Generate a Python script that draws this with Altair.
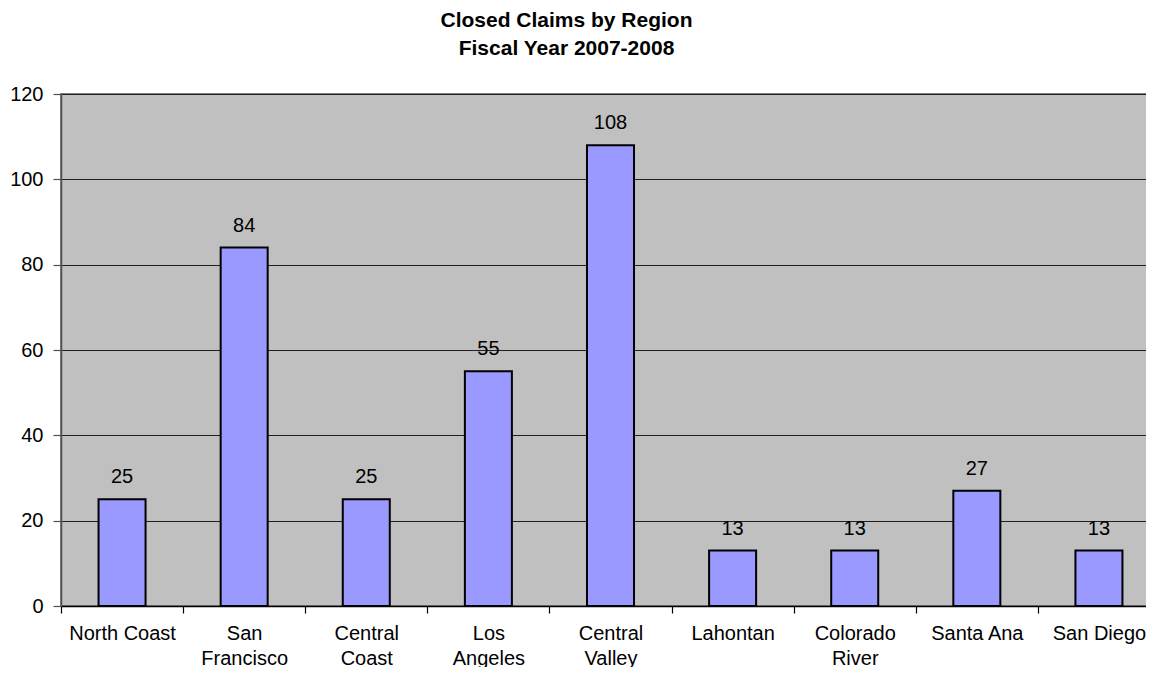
import altair as alt
import pandas as pd

regions = ["North Coast", "San Francisco", "Central Coast", "Los Angeles",
           "Central Valley", "Lahontan", "Colorado River", "Santa Ana", "San Diego"]
claims = [25, 84, 25, 55, 108, 13, 13, 27, 13]
y_ticks = [0, 20, 40, 60, 80, 100, 120]
single_line = ["North Coast", "Santa Ana", "San Diego"]

df = pd.DataFrame({"region": regions, "claims": claims})

FONT = "Liberation Sans"

label_expr = ("datum.value == null ? '' : (indexof([" +
              ",".join("'%s'" % s for s in single_line) +
              "], datum.value) >= 0 ? datum.value : split(datum.value, ' '))")

x = alt.X("region:N", sort=regions, title=None,
          scale=alt.Scale(paddingInner=0, paddingOuter=0),
          axis=alt.Axis(labelAngle=0, tickBand="extent", labelExpr=label_expr,
                        labelFontSize=20, labelFont=FONT, labelColor="black",
                        labelLineHeight=25, labelPadding=10,
                        domainColor="black", domainWidth=1.5,
                        tickColor="black", tickSize=7, tickWidth=1.2,
                        grid=False))
y = alt.Y("claims:Q", title=None,
          scale=alt.Scale(domain=[0, 120], nice=False),
          axis=alt.Axis(values=y_ticks, labelFontSize=20, labelFont=FONT,
                        labelColor="black", labelPadding=10,
                        domainColor="#505050", domainWidth=1.5,
                        tickColor="#505050", tickSize=8, tickWidth=1.2,
                        grid=True, gridColor="#202020", gridWidth=1))

base = alt.Chart(df)
bars = base.mark_bar(color="#9999FF", stroke="black", strokeWidth=2,
                     width=alt.RelativeBandSize(0.385)).encode(x=x, y=y)
labels = base.mark_text(baseline="alphabetic", dy=-16, fontSize=20, font=FONT,
                        color="black").encode(
    x=alt.X("region:N", sort=regions),
    y=alt.Y("claims:Q"),
    text=alt.Text("claims:Q"))

chart = alt.layer(bars, labels).properties(
    width=1099, height=512,
    title=alt.Title(["Closed Claims by Region", "Fiscal Year 2007-2008"],
                    font=FONT, fontSize=21, fontWeight="bold", color="black",
                    anchor="middle", dx=-44, offset=25, lineHeight=28),
    autosize=alt.AutoSizeParams(type="none"),
    padding={"left": 53, "top": 86, "right": -14, "bottom": 61},
).configure_view(fill="#C0C0C0", stroke="#808080", strokeWidth=2)

chart.save("out.html", embed_options={"renderer": "svg", "actions": False})
